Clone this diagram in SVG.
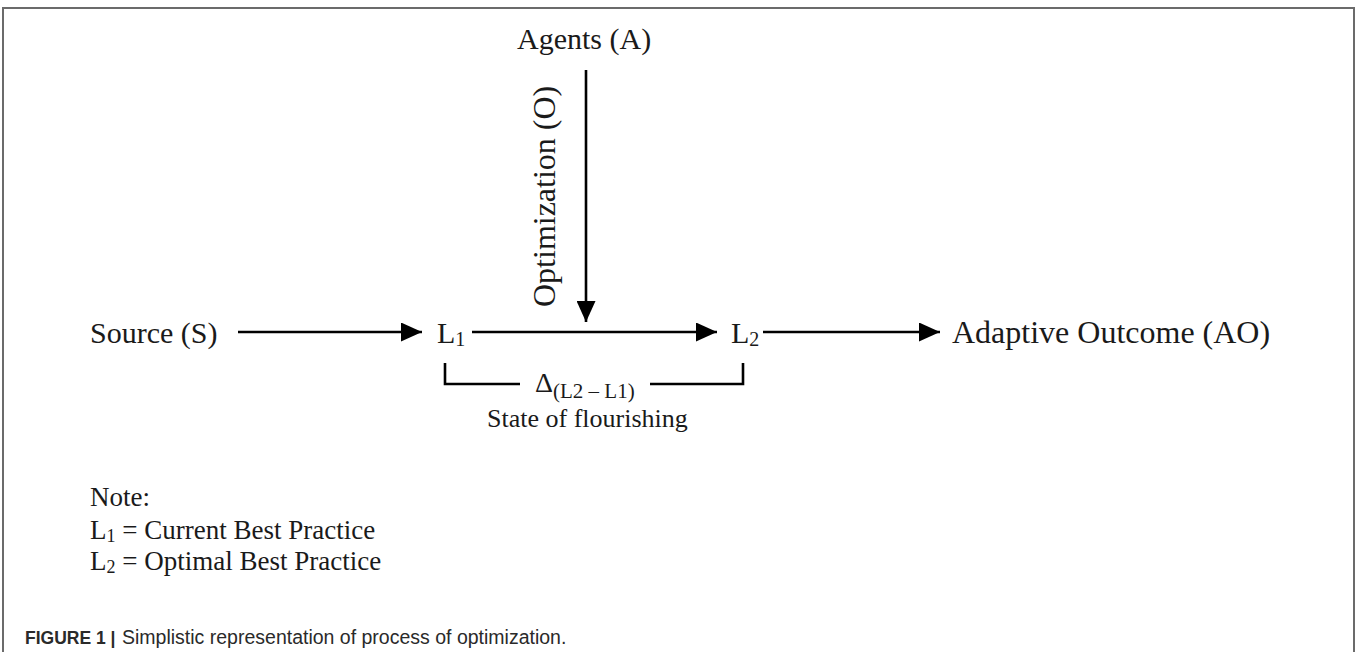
<svg xmlns="http://www.w3.org/2000/svg" width="1357" height="652" viewBox="0 0 1357 652">
<style>
.t{font-family:"Liberation Serif","Times New Roman",serif;fill:#1a1a1a}
.c{stroke:#000;stroke-width:2.6;fill:none}
.frame{stroke:#6b6b6b;stroke-width:2;fill:none}
.cap{font-family:"Liberation Sans",Arial,sans-serif;font-size:19.5px;fill:#2a2a2a}
</style>
<defs>
<marker id="ah" markerUnits="userSpaceOnUse" markerWidth="21" markerHeight="19" viewBox="0 0 21 19" refX="21" refY="9.5" orient="auto">
<path d="M0,0 L21,9.5 L0,19 z" fill="#000"/>
</marker>
</defs>
<rect width="1357" height="652" fill="#fff"/>
<path class="frame" d="M3,652 V8 H1354 V652"/>
<g id="agents"><text class="t" x="517" y="49" font-size="30">Agents (A)</text></g>
<g id="source"><text class="t" x="90" y="343" font-size="30">Source (S)</text></g>
<g id="L1"><text class="t" x="437" y="343" font-size="30">L<tspan font-size="20" dy="3">1</tspan></text></g>
<g id="L2"><text class="t" x="731" y="343" font-size="30">L<tspan font-size="20" dy="3">2</tspan></text></g>
<g id="outcome"><text class="t" x="952" y="343" font-size="32">Adaptive Outcome (AO)</text></g>
<g id="optimization-label"><text class="t" transform="translate(555,307) rotate(-90)" font-size="32">Optimization (O)</text></g>
<g id="connectors">
<line class="c" x1="238" y1="332" x2="422" y2="332" marker-end="url(#ah)"/>
<line class="c" x1="472" y1="332" x2="717" y2="332" marker-end="url(#ah)"/>
<line class="c" x1="763" y1="332" x2="940" y2="332" marker-end="url(#ah)"/>
<line class="c" x1="586" y1="70" x2="586" y2="322" marker-end="url(#ah)"/>
<path class="c" d="M445,363 V384 H520"/>
<path class="c" d="M650,384 H743 V363"/>
</g>
<g id="delta">
<text class="t" x="535" y="392" font-size="28">Δ<tspan font-size="21" dy="6">(L2 – L1)</tspan></text>
<text class="t" x="487" y="427" font-size="26">State of flourishing</text>
</g>
<g id="note">
<text class="t" x="90" y="506" font-size="27">Note:</text>
<text class="t" x="90" y="539" font-size="27">L<tspan font-size="18" dy="3">1</tspan><tspan dy="-3"> = Current Best Practice</tspan></text>
<text class="t" x="90" y="570" font-size="27">L<tspan font-size="18" dy="3">2</tspan><tspan dy="-3"> = Optimal Best Practice</tspan></text>
</g>
<g id="caption">
<text class="cap" x="25" y="644"><tspan font-weight="bold" font-size="17.5">FIGURE 1 |</tspan><tspan x="122">Simplistic representation of process of optimization.</tspan></text>
</g>
</svg>
